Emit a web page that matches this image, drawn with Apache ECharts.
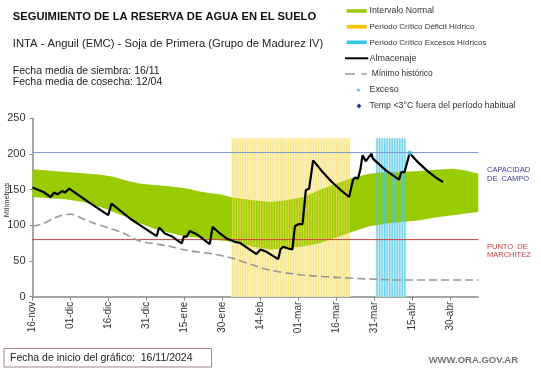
<!DOCTYPE html>
<html><head><meta charset="utf-8">
<script src="https://cdn.jsdelivr.net/npm/echarts@6/dist/echarts.min.js"></script>
<style>html,body{margin:0;padding:0;background:#fff}#c{width:541px;height:368px}</style>
</head><body><div id="c"></div>
<script>
// X axis: days since 16-nov-2024
const tickDays = [0,15,30,45,60,75,90,105,120,135,150,165];
const tickLabels = ['16-nov','01-dic','16-dic','31-dic','15-ene','30-ene','14-feb','01-mar','16-mar','31-mar','15-abr','30-abr'];
const xMaxDay = 176;

// Intervalo normal (band)
const bandDays  = [0,7,13,20,27,32,37,42,48,53,58,61,66,71,74,79,87,94,100,107,113,120,126,133,140,146,153,159,166,171,176];
const bandUpper = [178.5,176.5,174.7,173,171,168,163,158.5,156.5,155,153,151.5,147.5,144.5,143.5,139,135,132.8,135,139.7,149,158.5,166.5,172.4,174.7,174.7,176,178,179.4,177,172.4];
const bandLower = [139.7,138,136.5,132.8,125.5,118.8,111.8,103.4,95.3,90.8,86.2,84.5,82.5,80.2,79.2,76.9,69.9,66.2,67.6,70.8,74.6,83,90.8,98.8,102.6,104.8,107.2,111,114.2,116.5,118.8];

// Almacenaje
const storeDays = [0,4.3,7.2,8.5,9.8,11.8,12.8,14.5,22,29.9,31.2,38.5,42.4,49,50,52.3,54.9,58.9,59.8,60.8,62.1,64.8,70,71.1,74,76.6,79.9,80.6,81.9,83.2,88.4,90,92.4,97,97.9,98.9,100.9,102.6,103.6,104.9,106.6,107.9,109.2,110.8,114,118,122,125,126.5,127.2,128.5,129.5,130.3,131.6,133.8,134.4,139.5,144.7,145.6,146.9,148.9,152,156,159,162];
const storeVals = [152.9,146.7,139.7,145.9,143.5,148.1,145.9,151.5,133,114.2,130.5,109.6,100.2,84.8,97,88.6,84.8,74.6,84.8,83.8,92.2,87.6,73.6,97.8,88.6,81.6,76.9,78.3,75.5,72.2,59.7,66.2,62.9,52.7,66.2,69.9,67.6,66.2,98.8,101.6,101.6,149.1,151.5,191,177,161.5,148.5,139.7,163.1,166.9,165.5,179.4,198,190,200.4,193.4,177,164,174.7,174.7,201.2,189,176,167.5,160.7];

// Mínimo histórico
const minDays = [0,4.3,8.2,11.5,15.5,18.7,24,30.6,35.8,42.4,52.9,60.8,71.3,79.2,87.1,93.7,106.8,120,133.1,146.3,176];
const minVals = [98.8,102.6,109.6,114.2,115.6,111,103.4,95.6,89.4,78,71.5,65,59.7,53.7,44.3,37.3,30.3,27.1,24.7,23.3,23.3];

// Exceso
const excesoDays = [148.9];
const excesoVals = [201.5];

// Periods (day ranges) and reference levels
const deficitPeriod = [79,125];
const excessPeriod = [136,147];
const periodTop = 222;
const capacidadCampo = 202;
const puntoMarchitez = 80;

const FONT = '"Liberation Sans", Arial, sans-serif';
const zip = (a,b) => a.map((v,i)=>[v,b[i]]);

const stripes = [];
for (let d = deficitPeriod[0]; d <= deficitPeriod[1]; d++) stripes.push({value:[d, periodTop], itemStyle:{color:'rgba(247,222,100,0.62)'}});
for (let d = excessPeriod[0]; d <= excessPeriod[1]; d++) stripes.push({value:[d, periodTop], itemStyle:{color:'rgba(70,196,228,0.7)'}});

const chart = echarts.init(document.getElementById('c'), null, {renderer:'canvas'});

function txt(text, x, y, font, fill, align) {
  return {type:'text', x:x, y:y, silent:true, style:{text:text, x:0, y:0, font:font, fill:fill, textAlign:align||'left', textVerticalAlign:'middle'}};
}

const lf = (s) => s + 'px ' + FONT;
const graphics = [
  txt('SEGUIMIENTO DE LA RESERVA DE AGUA EN EL SUELO', 12.8, 16.7, 'bold 11.2px ' + FONT, '#111'),
  txt('INTA - Anguil (EMC) - Soja de Primera (Grupo de Madurez IV)', 12.8, 43.5, lf(11.25), '#222'),
  txt('Fecha media de siembra: 16/11', 12.8, 71, lf(10.5), '#222'),
  txt('Fecha media de cosecha: 12/04', 12.8, 82, lf(10.5), '#222'),
  // legend
  {type:'rect', silent:true, shape:{x:346.7,y:9.2,width:20,height:3.6}, style:{fill:'#99cc00'}},
  txt('Intervalo Normal', 369.5, 11, lf(8.8), '#333'),
  {type:'rect', silent:true, shape:{x:346.7,y:24.9,width:20,height:3.6}, style:{fill:'#ffc000'}},
  txt('Periodo Crítico Déficit Hídrico', 369.5, 26.7, lf(8), '#333'),
  {type:'rect', silent:true, shape:{x:346.7,y:40.5,width:20,height:3.6}, style:{fill:'#33c6ee'}},
  txt('Periodo Crítico Excesos Hídricos', 369.5, 42.3, lf(8), '#333'),
  {type:'line', silent:true, shape:{x1:345,y1:58.3,x2:368.3,y2:58.3}, style:{stroke:'#000',lineWidth:2}},
  txt('Almacenaje', 369.5, 58.3, lf(9), '#333'),
  {type:'line', silent:true, shape:{x1:345,y1:74,x2:355,y2:74}, style:{stroke:'#999',lineWidth:1.5}},
  {type:'line', silent:true, shape:{x1:361.7,y1:74,x2:366.7,y2:74}, style:{stroke:'#999',lineWidth:1.5}},
  txt('Mínimo histórico', 371.7, 74, lf(8.4), '#333'),
  {type:'circle', silent:true, shape:{cx:358.3,cy:90,r:1.5}, style:{fill:'#3cc8ec'}},
  txt('Exceso', 369.5, 90, lf(8.9), '#333'),
  {type:'polygon', silent:true, shape:{points:[[359,103.6],[361.4,106],[359,108.4],[356.6,106]]}, style:{fill:'#1f2f9a'}},
  txt('Temp <3°C fuera del período habitual', 369.5, 106, lf(8.8), '#333'),
  // reference labels
  txt('CAPACIDAD', 487, 170.3, lf(7.5), '#3b3b9c'),
  txt('DE  CAMPO', 487, 179, lf(7.5), '#3b3b9c'),
  txt('PUNTO  DE', 487, 246.7, lf(7.5), '#cc3b3b'),
  txt('MARCHITEZ', 487, 255.3, lf(7.5), '#cc3b3b'),
  // axis name
  {type:'text', x:6.5, y:200, rotation:Math.PI/2, silent:true, style:{text:'Milímetros', x:0, y:0, font:lf(7.5), fill:'#333', textAlign:'center', textVerticalAlign:'middle'}},
  // bottom
  {type:'rect', silent:true, shape:{x:4,y:348.5,width:207.5,height:18.5}, style:{fill:'none', stroke:'#a08585', lineWidth:1}},
  txt('Fecha de inicio del gráfico:  16/11/2024', 10, 357.7, lf(10.5), '#222'),
  txt('WWW.ORA.GOV.AR', 518, 360, 'bold 9.5px ' + FONT, '#727272', 'right')
];

chart.setOption({
  animation:false,
  backgroundColor:'#fff',
  textStyle:{fontFamily:FONT},
  grid:{left:32.5, right:62.7, top:118.3, bottom:71.3, containLabel:false, outerBoundsMode:'none'},
  xAxis:{
    type:'value', min:0, max:xMaxDay,
    axisLine:{show:true, lineStyle:{color:'#888', width:1.5}},
    axisTick:{show:true, customValues:tickDays, length:4, lineStyle:{color:'#888'}},
    axisLabel:{customValues:tickDays, rotate:90, fontSize:10, color:'#333', margin:5, fontFamily:FONT,
      formatter:function(v){ const i = tickDays.indexOf(v); return i>=0 ? tickLabels[i] : ''; }},
    splitLine:{show:false}
  },
  yAxis:{
    type:'value', min:0, max:250, interval:50,
    axisLine:{show:true, lineStyle:{color:'#888', width:1.5}},
    axisTick:{show:true, length:3, lineStyle:{color:'#888'}},
    axisLabel:{fontSize:11, color:'#333', margin:7, fontFamily:FONT},
    splitLine:{show:false}
  },
  graphic:graphics,
  series:[
    {type:'line', name:'fondo', z:1, symbol:'none', silent:true,
      data:[[0,0],[1,0]], lineStyle:{opacity:0},
      markArea:{silent:true, data:[
        [{coord:[deficitPeriod[0]-0.5,0], itemStyle:{color:'rgba(251,242,196,1)'}},{coord:[deficitPeriod[1]+0.5,periodTop]}],
        [{coord:[excessPeriod[0]-0.5,0], itemStyle:{color:'rgba(206,238,248,1)'}},{coord:[excessPeriod[1]+0.5,periodTop]}]
      ]}},
    {type:'custom', name:'Intervalo Normal', z:2, silent:true, data:[[0,0]],
      renderItem:function(params, api){
        const top = bandDays.map((d,i)=>api.coord([d, bandUpper[i]]));
        const bot = bandDays.map((d,i)=>api.coord([d, bandLower[i]])).reverse();
        return {type:'polygon', shape:{points:top.concat(bot)}, style:{fill:'#99cc00'}};
      }},
    {type:'bar', name:'Periodos', z:3, silent:true, barWidth:1.3, data:stripes},
    {type:'line', name:'Capacidad de campo', z:4, symbol:'none', silent:true,
      data:[[0,capacidadCampo],[xMaxDay,capacidadCampo]], lineStyle:{color:'#7b9bd0', width:1}},
    {type:'line', name:'Punto de marchitez', z:4, symbol:'none', silent:true,
      data:[[0,puntoMarchitez],[xMaxDay,puntoMarchitez]], lineStyle:{color:'#c8403a', width:1}},
    {type:'line', name:'Mínimo histórico', z:4, symbol:'none', smooth:0.3, silent:true,
      data:zip(minDays,minVals), lineStyle:{color:'#999', width:1.6, type:[8,4]}},
    {type:'line', name:'Almacenaje', z:5, symbol:'none', silent:true,
      data:zip(storeDays,storeVals), lineStyle:{color:'#000', width:2.2}},
    {type:'scatter', name:'Exceso', z:6, silent:true, symbolSize:5,
      data:zip(excesoDays,excesoVals), itemStyle:{color:'#3cc8ec'}}
  ]
});
</script>
</body></html>
